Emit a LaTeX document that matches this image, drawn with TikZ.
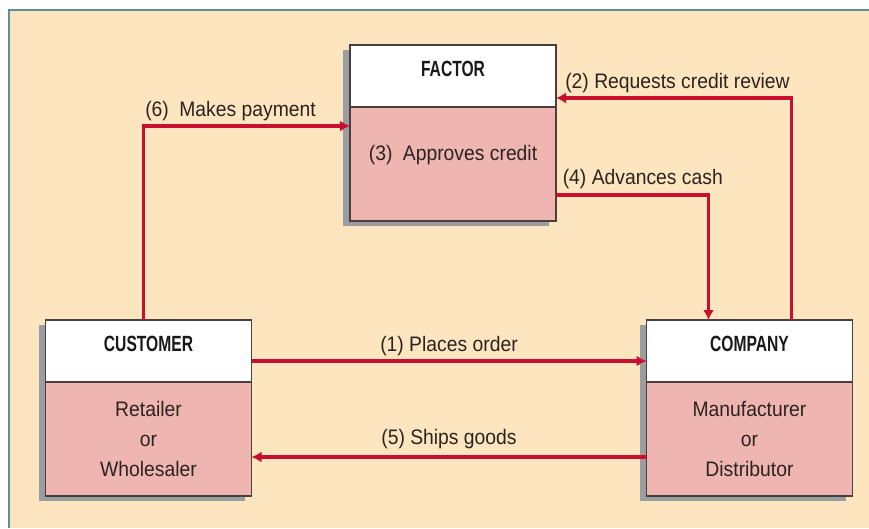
\documentclass[tikz,border=0pt]{standalone}
\usepackage{fontspec}
\setmainfont{Liberation Sans}[FakeStretch=0.92]
\newfontfamily\headFont{Liberation Sans}[FakeStretch=0.71]
\usetikzlibrary{arrows.meta, shadows, positioning}
\definecolor{pageFill}{HTML}{FDE5C0}
\definecolor{pageEdge}{HTML}{5E8E9C}
\definecolor{bodyFill}{HTML}{EFB5B1}
\definecolor{boxEdge}{HTML}{4A3F3C}
\definecolor{shadowGray}{HTML}{9A9DA2}
\definecolor{flowRed}{HTML}{C8102E}
\definecolor{inkText}{HTML}{2B2320}
\tikzset{
    partyBox/.style={rectangle, draw=boxEdge, line width=1.3pt, outer sep=0pt, inner sep=0pt, minimum width=206pt,
        drop shadow={shadow xshift=-7pt, shadow yshift=-5pt, fill=shadowGray, opacity=1}},
    headBox/.style={partyBox, fill=white, minimum height=62pt, text height=15pt, text depth=15pt,
        text=black!90, font=\headFont\bfseries\fontsize{22}{26}\selectfont},
    bodyBox/.style={partyBox, fill=bodyFill, minimum height=114pt, text=inkText, font=\fontsize{21}{30}\selectfont},
    flowArrow/.style={-{Latex[length=10pt, width=11pt]}, draw=flowRed, line width=3.6pt},
    flowLabel/.style={inner sep=0pt, text=inkText, font=\fontsize{21}{25}\selectfont},
}
\newcommand{\drawParty}[4]{
    \node[headBox] (#1Head) at (#2) {#3};
    \node[bodyBox, align=center, below=0pt of #1Head] (#1Body) {#4};
}

\begin{document}
\begin{tikzpicture}[x=1pt, y=-1pt]
    \useasboundingbox (0,0) rectangle (869,528);
    \fill[pageFill] (9,10) rectangle (869,528);
    \draw[pageEdge, line width=1.5pt] (9,528) -- (9,10) -- (869,10);

    \node[headBox] (factorHead) at (453,76) {FACTOR};
    \node[bodyBox, below=0pt of factorHead, text height=15pt, text depth=23pt] (factorBody) {(3)\enspace Approves credit};

    \drawParty{customer}{148.5,351}{CUSTOMER}{Retailer\\or\\Wholesaler}
    \drawParty{company}{749.5,351}{COMPANY}{Manufacturer\\or\\Distributor}

    \draw[flowArrow] ([yshift=-10pt]customerHead.east) -- node[flowLabel, anchor=base, yshift=10pt] (orderText) {(1) Places order} ([yshift=-10pt]companyHead.west);
    \draw[flowArrow] ([xshift=42pt]companyHead.north) |- node[flowLabel, pos=0.5, anchor=base east, yshift=10pt] (reviewText) {(2) Requests credit review} ([yshift=-22pt]factorHead.east);
    \draw[flowArrow] ([yshift=-31pt]factorBody.east) -| node[flowLabel, pos=0, anchor=base west, xshift=5pt, yshift=11pt] (cashText) {(4) Advances cash} ([xshift=-41pt]companyHead.north);
    \draw[flowArrow] ([yshift=-18pt]companyBody.west) -- node[flowLabel, anchor=base, yshift=13pt] (shipText) {(5) Ships goods} ([yshift=-18pt]customerBody.east);
    \draw[flowArrow] ([xshift=-5pt]customerHead.north) |- node[flowLabel, pos=0.5, anchor=base west, yshift=10pt] (payText) {(6)\enspace Makes payment} ([yshift=-19pt]factorBody.north west);

\end{tikzpicture}
\end{document}
